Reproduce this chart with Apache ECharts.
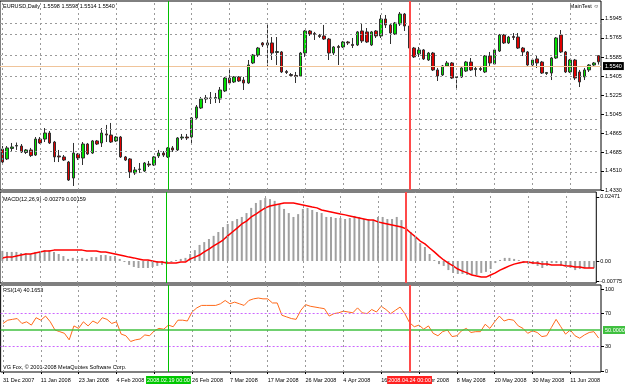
<!DOCTYPE html>
<html><head><meta charset="utf-8">
<script src="https://cdn.jsdelivr.net/npm/echarts@6/dist/echarts.min.js"></script>
<style>html,body{margin:0;padding:0;background:#fff}#c{width:625px;height:385px}</style>
</head><body><div id="c"></div>
<script>
const tickLabels = ['31 Dec 2007','11 Jan 2008','23 Jan 2008','4 Feb 2008','14 Feb 2008','26 Feb 2008','7 Mar 2008','17 Mar 2008','26 Mar 2008','4 Apr 2008','16 Apr 2008','28 Apr 2008','8 May 2008','20 May 2008','30 May 2008','11 Jun 2008'];
const opens = [1.4717,1.4623,1.4722,1.4745,1.4745,1.4684,1.4708,1.4660,1.4811,1.4811,
 1.4868,1.4783,1.4651,1.4642,1.4594,1.4443,1.4670,1.4632,1.4764,1.4679,
 1.4793,1.4774,1.4859,1.4849,1.4793,1.4830,1.4642,1.4623,1.4491,1.4524,
 1.4509,1.4575,1.4566,1.4651,1.4679,1.4642,1.4727,1.4708,1.4821,1.4830,
 1.4830,1.5010,1.5104,1.5189,1.5199,1.5194,1.5189,1.5265,1.5387,1.5350,
 1.5397,1.5368,1.5340,1.5529,1.5604,1.5718,1.5699,1.5718,1.5628,1.5633,
 1.5449,1.5420,1.5411,1.5406,1.5623,1.5831,1.5808,1.5789,1.5784,1.5755,
 1.5623,1.5685,1.5680,1.5727,1.5704,1.5699,1.5831,1.5822,1.5699,1.5831,
 1.5784,1.5944,1.5888,1.5803,1.5897,1.5991,1.5878,1.5670,1.5614,1.5652,
 1.5557,1.5623,1.5463,1.5416,1.5501,1.5529,1.5392,1.5397,1.5453,1.5538,
 1.5467,1.5477,1.5444,1.5595,1.5519,1.5642,1.5793,1.5718,1.5779,1.5774,
 1.5670,1.5633,1.5510,1.5567,1.5538,1.5430,1.5434,1.5576,1.5793,1.5633,
 1.5444,1.5557,1.5444,1.5397,1.5463,1.5510,1.5598];
const closes = [1.4594,1.4727,1.4736,1.4750,1.4689,1.4708,1.4655,1.4811,1.4774,1.4868,
 1.4774,1.4642,1.4642,1.4613,1.4424,1.4679,1.4632,1.4764,1.4670,1.4793,
 1.4764,1.4868,1.4849,1.4783,1.4830,1.4642,1.4613,1.4500,1.4519,1.4528,
 1.4585,1.4566,1.4642,1.4679,1.4660,1.4727,1.4708,1.4821,1.4830,1.4821,
 1.5010,1.5114,1.5189,1.5199,1.5194,1.5203,1.5274,1.5387,1.5340,1.5397,
 1.5359,1.5340,1.5510,1.5604,1.5670,1.5699,1.5718,1.5623,1.5637,1.5444,
 1.5439,1.5411,1.5401,1.5623,1.5831,1.5803,1.5798,1.5779,1.5755,1.5623,
 1.5680,1.5675,1.5727,1.5718,1.5694,1.5822,1.5737,1.5727,1.5822,1.5784,
 1.5944,1.5888,1.5812,1.5906,1.5991,1.5878,1.5670,1.5586,1.5652,1.5567,
 1.5623,1.5463,1.5406,1.5501,1.5529,1.5387,1.5401,1.5482,1.5538,1.5463,
 1.5477,1.5467,1.5595,1.5529,1.5652,1.5793,1.5718,1.5774,1.5770,1.5670,
 1.5633,1.5510,1.5557,1.5529,1.5434,1.5439,1.5576,1.5765,1.5633,1.5444,
 1.5557,1.5387,1.5350,1.5463,1.5510,1.5529,1.5540];
const highs = [1.4745,1.4745,1.4774,1.4778,1.4764,1.4717,1.4727,1.4830,1.4830,1.4915,
 1.4887,1.4793,1.4708,1.4660,1.4604,1.4774,1.4679,1.4783,1.4774,1.4802,
 1.4802,1.4915,1.4944,1.4963,1.4840,1.4840,1.4651,1.4632,1.4547,1.4585,
 1.4594,1.4604,1.4651,1.4708,1.4698,1.4736,1.4745,1.4830,1.4859,1.4859,
 1.5019,1.5132,1.5208,1.5227,1.5255,1.5246,1.5302,1.5397,1.5463,1.5406,
 1.5406,1.5397,1.5557,1.5614,1.5680,1.5727,1.5897,1.5774,1.5774,1.5642,
 1.5463,1.5434,1.5444,1.5633,1.5840,1.5840,1.5822,1.5803,1.5888,1.5765,
 1.5689,1.5699,1.5737,1.5737,1.5765,1.5831,1.5906,1.5859,1.5831,1.5840,
 1.5982,1.5982,1.5906,1.5916,1.6010,1.6001,1.5888,1.5680,1.5680,1.5661,
 1.5633,1.5633,1.5482,1.5510,1.5548,1.5538,1.5406,1.5491,1.5548,1.5576,
 1.5491,1.5501,1.5604,1.5633,1.5661,1.5803,1.5803,1.5784,1.5812,1.5812,
 1.5680,1.5642,1.5576,1.5604,1.5548,1.5444,1.5586,1.5774,1.5840,1.5642,
 1.5567,1.5567,1.5463,1.5482,1.5519,1.5538,1.5598];
const lows = [1.4585,1.4613,1.4698,1.4708,1.4679,1.4670,1.4642,1.4651,1.4764,1.4783,
 1.4764,1.4594,1.4594,1.4604,1.4415,1.4368,1.4613,1.4566,1.4660,1.4670,
 1.4755,1.4736,1.4783,1.4774,1.4783,1.4632,1.4604,1.4443,1.4472,1.4491,
 1.4500,1.4547,1.4557,1.4632,1.4642,1.4632,1.4689,1.4698,1.4802,1.4802,
 1.4774,1.4991,1.5095,1.5151,1.5142,1.5151,1.5151,1.5255,1.5331,1.5340,
 1.5350,1.5274,1.5331,1.5519,1.5586,1.5680,1.5491,1.5557,1.5510,1.5434,
 1.5425,1.5406,1.5340,1.5397,1.5586,1.5784,1.5746,1.5765,1.5746,1.5557,
 1.5604,1.5510,1.5670,1.5699,1.5670,1.5689,1.5718,1.5718,1.5689,1.5765,
 1.5765,1.5859,1.5708,1.5793,1.5878,1.5831,1.5652,1.5576,1.5586,1.5557,
 1.5548,1.5453,1.5359,1.5406,1.5491,1.5378,1.5283,1.5387,1.5444,1.5453,
 1.5397,1.5453,1.5434,1.5491,1.5510,1.5633,1.5708,1.5708,1.5746,1.5661,
 1.5595,1.5501,1.5501,1.5482,1.5425,1.5416,1.5368,1.5567,1.5623,1.5434,
 1.5434,1.5368,1.5302,1.5368,1.5444,1.5501,1.5514];
const macdMain = [0.0039,0.0035,0.0035,0.0035,0.0031,0.0031,0.0027,0.0035,0.0035,0.0042,
 0.0042,0.0035,0.0027,0.0019,0.0008,0.0012,0.0008,0.0012,0.0008,0.0015,
 0.0015,0.0023,0.0023,0.0019,0.0019,0.0008,-0.0004,-0.0015,-0.0023,-0.0027,
 -0.0027,-0.0027,-0.0023,-0.0019,-0.0015,-0.0012,-0.0004,0.0004,0.0008,0.0012,
 0.0027,0.0042,0.0062,0.0073,0.0085,0.0097,0.0112,0.0131,0.0143,0.0154,
 0.0162,0.0170,0.0185,0.0205,0.0224,0.0235,0.0243,0.0239,0.0232,0.0220,
 0.0201,0.0185,0.0170,0.0181,0.0201,0.0205,0.0197,0.0189,0.0185,0.0170,
 0.0170,0.0166,0.0166,0.0162,0.0166,0.0174,0.0170,0.0162,0.0162,0.0158,
 0.0170,0.0170,0.0162,0.0162,0.0170,0.0158,0.0135,0.0112,0.0093,0.0069,
 0.0054,0.0027,0.0004,-0.0012,-0.0019,-0.0035,-0.0046,-0.0050,-0.0050,-0.0054,
 -0.0054,-0.0054,-0.0046,-0.0042,-0.0031,-0.0008,0.0004,0.0012,0.0012,0.0008,
 0.0004,-0.0008,-0.0012,-0.0012,-0.0019,-0.0027,-0.0019,-0.0008,-0.0008,-0.0019,
 -0.0019,-0.0027,-0.0035,-0.0031,-0.0027,-0.0027,-0.00279];
const macdSignal = [0.0012,0.0015,0.0015,0.0019,0.0023,0.0027,0.0027,0.0031,0.0035,0.0039,
 0.0039,0.0042,0.0042,0.0042,0.0042,0.0042,0.0042,0.0042,0.0039,0.0039,
 0.0039,0.0035,0.0035,0.0031,0.0027,0.0023,0.0019,0.0015,0.0012,0.0008,
 0.0004,0.0004,0.0000,-0.0004,-0.0004,-0.0008,-0.0008,-0.0008,-0.0004,-0.0004,
 0.0008,0.0015,0.0023,0.0035,0.0046,0.0058,0.0069,0.0081,0.0097,0.0112,
 0.0127,0.0143,0.0154,0.0170,0.0181,0.0193,0.0205,0.0212,0.0216,0.0220,
 0.0224,0.0224,0.0224,0.0220,0.0216,0.0212,0.0208,0.0205,0.0197,0.0193,
 0.0189,0.0185,0.0181,0.0178,0.0174,0.0170,0.0166,0.0162,0.0158,0.0158,
 0.0151,0.0147,0.0143,0.0139,0.0135,0.0131,0.0124,0.0108,0.0093,0.0077,
 0.0066,0.0050,0.0035,0.0019,0.0004,-0.0008,-0.0019,-0.0031,-0.0039,-0.0046,
 -0.0054,-0.0058,-0.0062,-0.0062,-0.0054,-0.0046,-0.0035,-0.0027,-0.0019,-0.0012,
 -0.0008,-0.0004,-0.0004,-0.0008,-0.0008,-0.0012,-0.0012,-0.0015,-0.0015,-0.0015,
 -0.0019,-0.0019,-0.0023,-0.0023,-0.0027,-0.0027,-0.0027];
const rsi = [58,62,63,64,58,60,56,65,62,67,
 60,50,48,46,38,55,52,60,55,61,
 58,65,63,58,60,45,43,36,38,39,
 44,43,49,52,51,56,54,62,62,61,
 72,77,80,80,80,80,82,86,82,84,
 82,80,86,88,89,88,88,83,83,68,
 66,64,63,74,81,79,78,77,76,67,
 70,71,73,72,71,77,71,70,75,72,
 79,75,70,74,78,70,59,54,56,51,
 55,46,43,48,50,42,43,49,52,47,
 48,48,57,52,60,67,61,63,62,55,
 52,46,49,47,42,43,53,63,54,45,
 50,43,40,44,47,48,40.1653];
const priceTicks = [1.4330,1.4510,1.4685,1.4865,1.5045,1.5225,1.5405,1.5585,1.5765,1.5945];
const macdTicks = [-0.00775, 0, 0.02471];
const rsiTicks = [0, 30, 70, 100];
const bidPrice = 1.5540;
const rsiLevels = {upper: 70, mid: 50, lower: 30};
const greenMarker = {index: 35, text: '2008.02.19 00:00'};
const redMarker = {index: 86, text: '2008.04.24 00:00'};
const labelStep = 8;

const categories = opens.map((_, i) => String(i));
const candleData = opens.map((o, i) => [o, closes[i], lows[i], highs[i]]);
const FONT = '"Liberation Sans", Arial, sans-serif';
const FS = 5.5;
function gd() { return {color: '#9a9a9a', type: [2, 3], width: 1, opacity: 1}; }

function vGrid() {
  const out = [];
  for (let i = 0; i < categories.length; i += labelStep) out.push({xAxis: i, lineStyle: gd()});
  return out;
}
function vMarkers(withLabels) {
  const g = {xAxis: greenMarker.index, lineStyle: {color: '#00c000', width: 1, type: 'solid'}};
  const r = {xAxis: redMarker.index, lineStyle: {color: '#ff4a4a', width: 2, type: 'solid'}};
  if (withLabels) {
    g.label = {show: true, position: 'start', formatter: greenMarker.text, backgroundColor: '#00c800', color: '#fff', fontSize: FS, fontFamily: FONT, padding: [1, 1], distance: 4};
    r.label = {show: true, position: 'start', formatter: redMarker.text, backgroundColor: '#ff2020', color: '#fff', fontSize: FS, fontFamily: FONT, padding: [1, 1], distance: 4};
  }
  return [g, r];
}
function mlBase(data) {
  return {symbol: ['none', 'none'], silent: true, animation: false, label: {show: false}, lineStyle: {type: 'solid'}, data: data};
}

const grids = [
  {left: 0, top: 1, width: 601, height: 189},
  {left: 0, top: 192, width: 601, height: 91},
  {left: 0, top: 285, width: 601, height: 87}
].map(g => Object.assign(g, {show: true, borderColor: '#000', borderWidth: 1, backgroundColor: 'transparent'}));

function xAx(i, showLabels) {
  return {
    type: 'category', gridIndex: i, data: categories, boundaryGap: true,
    axisLine: {show: false}, splitLine: {show: false},
    axisTick: {show: showLabels, alignWithLabel: true, interval: labelStep - 1, length: 3, lineStyle: {color: '#000'}},
    axisLabel: {show: showLabels, interval: labelStep - 1, align: 'left', margin: 5, fontSize: FS, fontFamily: FONT, color: '#000',
      formatter: (v, idx) => (idx % labelStep === 0 ? tickLabels[idx / labelStep] : '')}
  };
}
function yAx(i, min, max, ticks, fmt) {
  return {
    type: 'value', gridIndex: i, position: 'right', min: min, max: max, scale: true,
    splitLine: {show: false}, axisLine: {show: false},
    axisTick: {show: true, length: 3, customValues: ticks, lineStyle: {color: '#000'}},
    axisLabel: {customValues: ticks, formatter: fmt, fontSize: FS, fontFamily: FONT, color: '#000', margin: 4}
  };
}

const mainLines = vGrid()
  .concat(priceTicks.map(v => ({yAxis: v, lineStyle: gd()})))
  .concat([{yAxis: bidPrice, lineStyle: {color: '#f0c49a', width: 1, type: 'solid'},
    label: {show: true, position: 'end', formatter: bidPrice.toFixed(4), backgroundColor: '#000', color: '#fff', fontSize: FS, fontFamily: FONT, padding: [1, 2], distance: 2}}])
  .concat(vMarkers(false));
const macdLines = vGrid().concat(vMarkers(false));
const rsiLines = vGrid()
  .concat([
    {yAxis: rsiLevels.upper, lineStyle: {color: '#cc66ff', type: [2, 2], width: 1}},
    {yAxis: rsiLevels.lower, lineStyle: {color: '#cc66ff', type: [2, 2], width: 1}},
    {yAxis: rsiLevels.mid, lineStyle: {color: '#40c040', type: 'solid', width: 1.5},
      label: {show: true, position: 'end', formatter: rsiLevels.mid.toFixed(4), backgroundColor: '#40c040', color: '#fff', fontSize: FS, fontFamily: FONT, padding: [1, 2], distance: 2}}
  ])
  .concat(vMarkers(true));

const chart = echarts.init(document.getElementById('c'), null, {renderer: 'canvas'});
chart.setOption({
  animation: false,
  backgroundColor: '#fff',
  grid: grids,
  xAxis: [xAx(0, false), xAx(1, false), xAx(2, true)],
  yAxis: [
    yAx(0, 1.4330, 1.6114, priceTicks, v => v.toFixed(4)),
    yAx(1, -0.00849, 0.02663, macdTicks, v => (v === 0 ? '0.00' : v.toFixed(5))),
    yAx(2, -1.2, 104.9, rsiTicks, v => String(v))
  ],
  series: [
    {
      type: 'candlestick', xAxisIndex: 0, yAxisIndex: 0, data: candleData, barWidth: 3, clip: false,
      itemStyle: {color: '#00e000', color0: '#e00000', borderColor: '#303030', borderColor0: '#303030', borderWidth: 1},
      markLine: mlBase(mainLines)
    },
    {
      type: 'bar', xAxisIndex: 1, yAxisIndex: 1, data: macdMain, barWidth: 2,
      itemStyle: {color: '#a0a0a0'},
      markLine: mlBase(macdLines)
    },
    {
      type: 'line', xAxisIndex: 1, yAxisIndex: 1, data: macdSignal, symbol: 'none', smooth: false,
      lineStyle: {color: '#ff0000', width: 1.5}
    },
    {
      type: 'line', xAxisIndex: 2, yAxisIndex: 2, data: rsi, symbol: 'none',
      lineStyle: {color: '#ff6a1a', width: 1},
      markLine: mlBase(rsiLines)
    }
  ],
  graphic: [
    {type: 'text', left: 3, top: 3, style: {text: 'EURUSD,Daily  1.5598 1.5598 1.5514 1.5540', font: FS + 'px ' + FONT, fill: '#000'}},
    {type: 'text', right: 26, top: 3, style: {text: 'MainTest \u263A', font: FS + 'px ' + FONT, fill: '#000'}},
    {type: 'text', left: 3, top: 196, style: {text: 'MACD(12,26,9) -0.00279 0.00159', font: FS + 'px ' + FONT, fill: '#000'}},
    {type: 'text', left: 3, top: 287, style: {text: 'RSI(14) 40.1653', font: FS + 'px ' + FONT, fill: '#000'}},
    {type: 'text', left: 3, top: 364, style: {text: 'VG Fox, \u00A9 2001-2008 MetaQuotes Software Corp.', font: FS + 'px ' + FONT, fill: '#000'}}
  ]
});
</script>
</body></html>
